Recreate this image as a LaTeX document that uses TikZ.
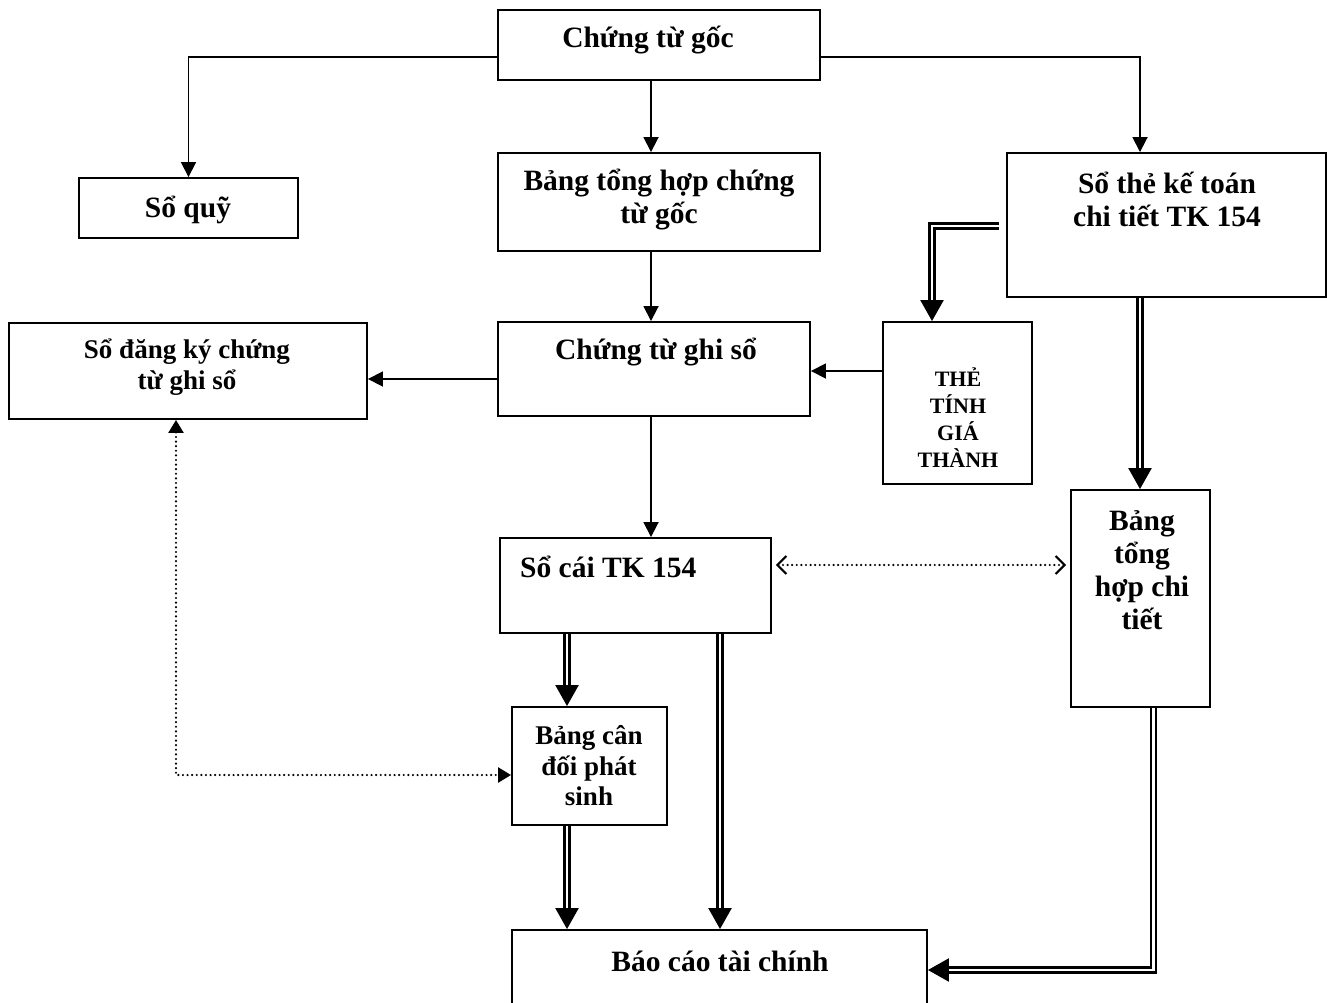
\documentclass[tikz,border=0pt]{standalone}
\usepackage{fontspec}
\setmainfont{Liberation Serif}
\usetikzlibrary{arrows.meta, positioning, calc}
\tikzset{
  box/.style={draw, line width=1.9pt, inner sep=0pt},
  txt/.style={font=\fontsize{29.5}{33}\selectfont\bfseries, align=center, inner sep=0pt},
  txtsm/.style={font=\fontsize{27}{30.5}\selectfont\bfseries, align=center, inner sep=0pt},
  txtxs/.style={font=\fontsize{22}{27}\selectfont\bfseries, align=center, inner sep=0pt},
  arr/.style={line width=1.8pt, -{Triangle[length=15pt, width=15pt]}},
  dbl/.style={double, double distance=2.4pt, line width=2.4pt,
              -{Triangle[length=21pt, width=23pt]}},
  dots/.style={line width=2.4pt, dash pattern=on 0pt off 4.6pt, line cap=round},
}
\begin{document}
\begin{tikzpicture}[x=1pt, y=-1pt]
  \useasboundingbox[fill=white] (0,0) rectangle (1327,1003);
  % boxes
  \node[box, minimum width=322pt, minimum height=70pt]  (goc)     at (659,45)     {};
  \node[box, minimum width=219pt, minimum height=60pt]  (quy)     at (188.5,208)  {};
  \node[box, minimum width=322pt, minimum height=98pt]  (tonghop) at (659,202)    {};
  \node[box, minimum width=319pt, minimum height=144pt] (sothe)   at (1166.5,225) {};
  \node[box, minimum width=358pt, minimum height=96pt]  (dangky)  at (188,371)    {};
  \node[box, minimum width=312pt, minimum height=94pt]  (ghiso)   at (654,369)    {};
  \node[box, minimum width=149pt, minimum height=162pt] (thegia)  at (957.5,403)  {};
  \node[box, minimum width=139pt, minimum height=217pt] (chitiet) at (1140.5,598.5) {};
  \node[box, minimum width=271pt, minimum height=95pt]  (socai)   at (635.5,585.5) {};
  \node[box, minimum width=155pt, minimum height=118pt] (candoi)  at (589.5,766)  {};
  \node[box, minimum width=415pt, minimum height=80pt]  (baocao)  at (719.5,970)  {};
  % texts
  \node[txt]   (goc-t)     at (648,40)    {Chứng từ gốc};
  \node[txt]   (quy-t)     at (188,210)   {Sổ quỹ};
  \node[txt]   (tonghop-t) at (659,200)   {Bảng tổng hợp chứng\\từ gốc};
  \node[txt]   (sothe-t)   at (1167,199)  {Sổ thẻ kế toán\\chi tiết TK 154};
  \node[txtsm] (dangky-t)  at (187,367)   {Sổ đăng ký chứng\\từ ghi sổ};
  \node[txt]   (ghiso-t)   at (656,352)   {Chứng từ ghi sổ};
  \node[txtxs] (thegia-t)  at (958,418)   {THẺ\\TÍNH\\GIÁ\\THÀNH};
  \node[txt]   (chitiet-t) at (1142,570)  {Bảng\\tổng\\hợp chi\\tiết};
  \node[txt, anchor=west] (socai-t) at (520,567) {Sổ cái TK 154};
  \node[txtsm] (candoi-t)  at (589,766)   {Bảng cân\\đối phát\\sinh};
  \node[txt]   (baocao-t)  at (720,961)   {Báo cáo tài chính};
  % single arrows
  \draw[arr] ([yshift=-12pt]goc.west) -| (quy.north);
  \draw[arr] ([xshift=-8pt]goc.south) -- ([xshift=-8pt]tonghop.north);
  \draw[arr] ([yshift=-12pt]goc.east) -| ([xshift=-26.5pt]sothe.north);
  \draw[arr] ([xshift=-8pt]tonghop.south) coordinate (a) -- (a |- ghiso.north);
  \draw[arr] ([yshift=-10pt]ghiso.west) coordinate (b) -- (b -| dangky.east);
  \draw[arr] ([yshift=32pt]thegia.west) coordinate (c) -- (c -| ghiso.east);
  \draw[arr] ([xshift=-3pt]ghiso.south) coordinate (d) -- (d |- socai.north);
  % double arrows
  \draw[dbl] ([xshift=-7pt, yshift=-1pt]sothe.west) -| ([xshift=-25.5pt]thegia.north);
  \draw[dbl] ([xshift=-26.5pt]sothe.south) coordinate (e) -- (e |- chitiet.north);
  \draw[dbl] ([xshift=-22.5pt]candoi.north |- socai.south) -- ([xshift=-22.5pt]candoi.north);
  \draw[dbl] ([xshift=84.5pt]socai.south) coordinate (f) -- (f |- baocao.north);
  \draw[dbl] ([xshift=-22.5pt]candoi.south) coordinate (g) -- (g |- baocao.north);
  \draw[dbl] ([xshift=13pt]chitiet.south) |- (baocao.east);
  % dotted links
  \draw[dots, {Straight Barb[length=9pt, width=18pt, line width=2pt]}-{Straight Barb[length=9pt, width=18pt, line width=2pt]},
        shorten <=4pt, shorten >=4pt]
    ([yshift=20.5pt]socai.east) coordinate (h) -- (h -| chitiet.west);
  \draw[dots, {Triangle[length=13pt, width=15pt]}-{Triangle[length=13pt, width=15pt]}]
    ([xshift=-12pt]dangky.south) |- ([yshift=-9pt]candoi.west);
\end{tikzpicture}
\end{document}
